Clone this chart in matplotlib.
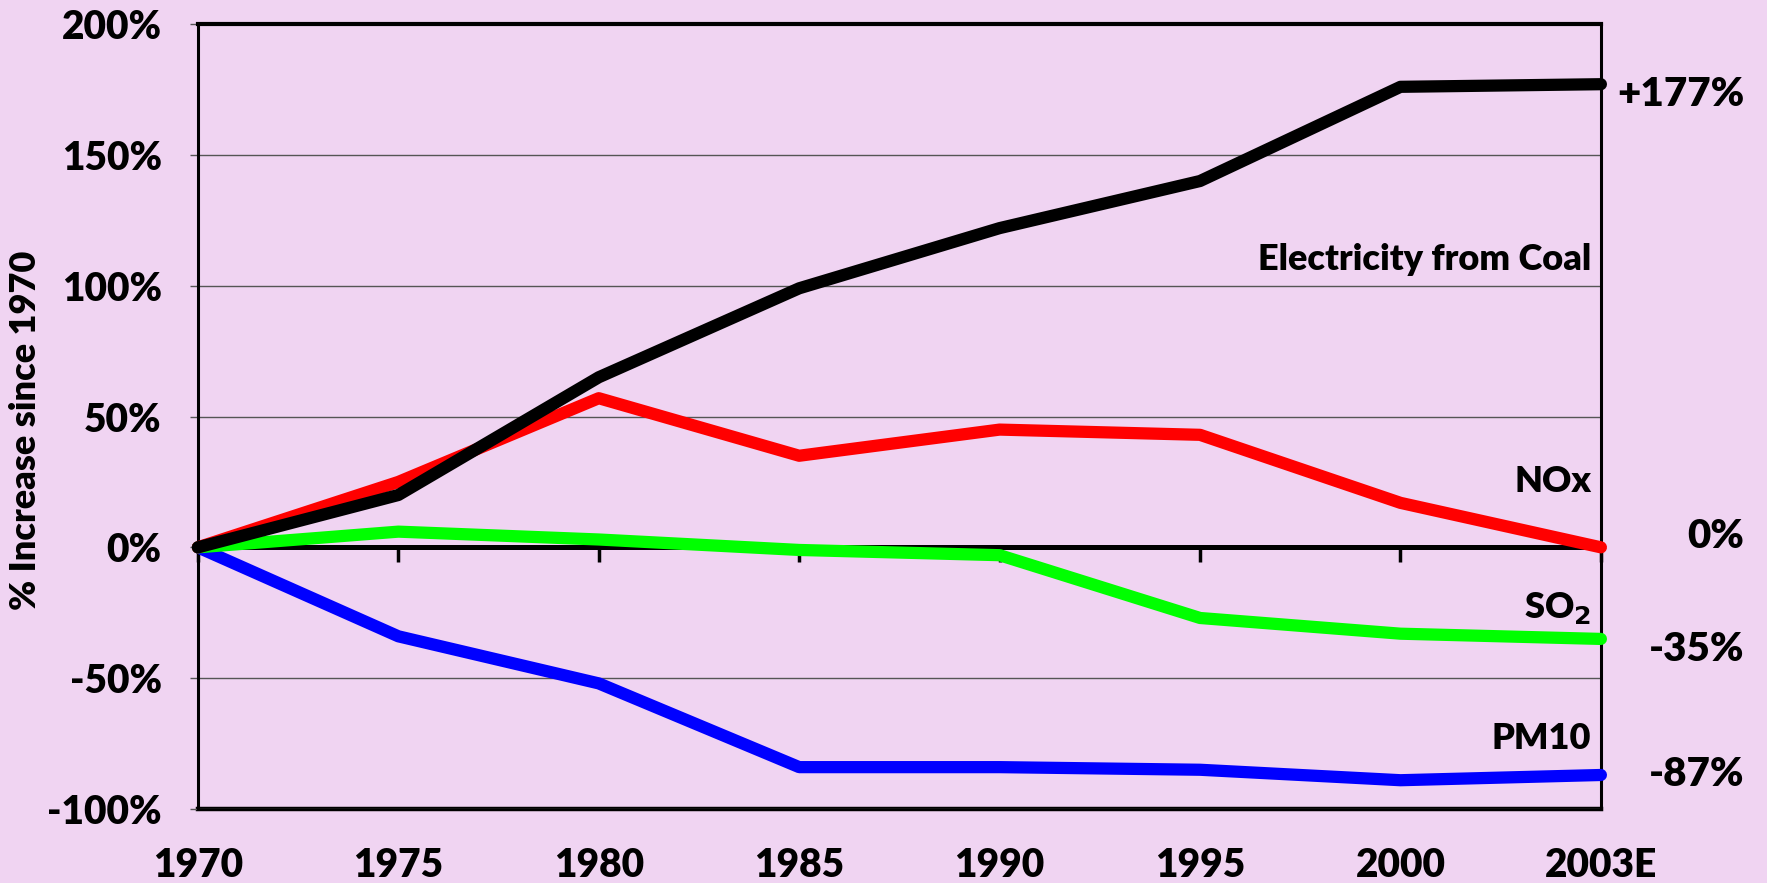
import matplotlib
matplotlib.use('Agg')
import matplotlib.pyplot as plt
import matplotlib.transforms as mtransforms

plt.rcParams['font.family'] = ['Lato', 'DejaVu Sans']
plt.rcParams['font.weight'] = 'heavy'

# data (% change since 1970)
years = ['1970', '1975', '1980', '1985', '1990', '1995', '2000', '2003E']
coal = [0, 20, 65, 99, 122, 140, 176, 177]
nox = [0, 25, 57, 35, 45, 43, 17, 0]
so2 = [0, 6, 3, -1, -3, -27, -33, -35]
pm10 = [0, -34, -52, -84, -84, -85, -89, -87]

series_names = ['Electricity from Coal', 'NOx', 'SO$_2$', 'PM10']
series_label_y = [110, 25, -23, -73]
end_labels = ['+177%', '0%', '-35%', '-87%']
end_label_y = [173, 4, -39, -87]
y_ticks = [-100, -50, 0, 50, 100, 150, 200]

BG = '#F0D4F2'
W = 'heavy'

fig = plt.figure(figsize=(17.67, 8.83), dpi=100, facecolor=BG)
ax = fig.add_axes([0.112, 0.0838, 0.794, 0.889], facecolor=BG)

x = list(range(len(years)))
lineKw = dict(lw=8.8, solid_capstyle='round', clip_on=False)
ax.plot(x, pm10, color='#0000FF', zorder=4, **lineKw)
ax.plot(x, so2, color='#00FF00', zorder=5, **lineKw)
ax.plot(x, nox, color='#FF0000', zorder=6, **lineKw)
ax.plot(x, coal, color='black', zorder=7, **lineKw)

ax.set_xlim(0, len(years) - 1)
ax.set_ylim(-100, 200)
ax.set_yticks(y_ticks)
ax.set_yticklabels([f"{v}%" for v in y_ticks], fontsize=28, fontweight=W)
ax.yaxis.grid(True, color='#555555', lw=1)
ax.set_axisbelow(True)
ax.tick_params(axis='y', length=6, width=1, color='#555555', pad=20)

# zero line with downward ticks at each year
ax.spines['bottom'].set_position(('data', 0))
ax.spines['bottom'].set_linewidth(3.6)
ax.spines['bottom'].set_zorder(3)
ax.set_xticks(x)
ax.tick_params(axis='x', direction='out', length=11, width=2.5, color='black', labelbottom=False)
ax.xaxis.set_zorder(3)

# bottom frame with the year labels
sec = ax.secondary_xaxis('bottom')
sec.set_xticks(x)
sec.set_xticklabels(years, fontsize=28, fontweight=W)
sec.tick_params(length=0, pad=27)
sec.spines['bottom'].set_linewidth(3.2)

ax.spines['left'].set_linewidth(2.2)
ax.spines['right'].set_linewidth(2.2)
ax.spines['top'].set_linewidth(3)

# series names inside the plot
trans = mtransforms.blended_transform_factory(ax.transAxes, ax.transData)
for name, yv in zip(series_names, series_label_y):
    ax.text(0.993, yv, name, transform=trans, ha='right', va='center', fontsize=26, fontweight=W, zorder=8)

# final values to the right of the plot
for lab, yv in zip(end_labels, end_label_y):
    ax.text(1.102, yv, lab, transform=trans, ha='right', va='center', fontsize=29, fontweight=W, clip_on=False)

fig.text(26 / 1767, 1 - 430 / 883, '% Increase since 1970', rotation=90, ha='center', va='center',
         fontsize=26, fontweight=W)

plt.savefig('out.png', dpi=100, facecolor=BG)
